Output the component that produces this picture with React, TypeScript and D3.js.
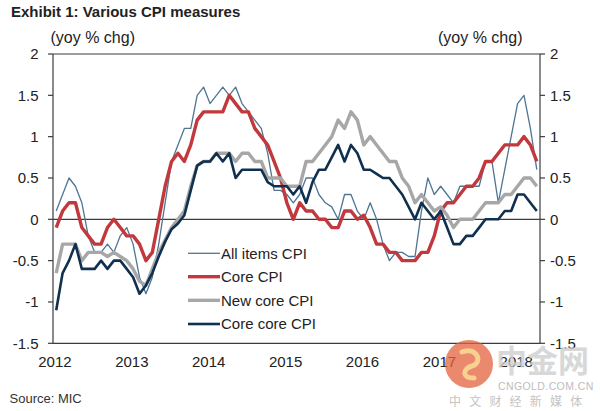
import React from "react";
import * as d3 from "d3";

// Monthly data Jan 2012 - Apr 2018 (yoy % chg)
const months: string[] = d3.range(76).map((i) => {
  const y = 2012 + Math.floor(i / 12);
  const m = (i % 12) + 1;
  return `${y}-${String(m).padStart(2, "0")}`;
});

const allItemsCPI: number[] = [
  0.1, 0.3, 0.5, 0.4, 0.2, -0.2, -0.4, -0.4, -0.3, -0.4, -0.2, -0.1,
  -0.3, -0.7, -0.9, -0.7, -0.3, 0.2, 0.7, 0.9, 1.1, 1.1, 1.5, 1.6,
  1.4, 1.5, 1.6, 1.5, 1.6, 1.4, 1.3, 1.2, 1.1, 0.8, 0.35, 0.35,
  0.3, 0.2, 0.3, 0.5, 0.5, 0.3, 0.2, 0.15, 0.0, 0.3, 0.3, 0.1,
  0.0, 0.2, 0.0, -0.3, -0.5, -0.4, -0.4, -0.45, -0.45, 0.1, 0.5, 0.3,
  0.4, 0.3, 0.2, 0.4, 0.4, 0.4, 0.4, 0.7, 0.7, 0.2, 0.6, 1.0,
  1.4, 1.5, 1.1, 0.6,
];

const coreCPI: number[] = [
  -0.1, 0.1, 0.2, 0.2, -0.1, -0.2, -0.3, -0.3, -0.1, 0.0, -0.1, -0.2,
  -0.2, -0.3, -0.5, -0.4, 0.0, 0.4, 0.7, 0.8, 0.7, 0.9, 1.2, 1.3,
  1.3, 1.3, 1.3, 1.5, 1.4, 1.3, 1.3, 1.1, 1.0, 0.9, 0.7, 0.5,
  0.2, 0.0, 0.2, 0.1, 0.1, 0.0, 0.0, -0.1, -0.1, 0.1, 0.1, 0.0,
  0.05, -0.1, -0.3, -0.3, -0.4, -0.4, -0.5, -0.5, -0.5, -0.4, -0.4, -0.2,
  0.1, 0.2, 0.2, 0.3, 0.4, 0.4, 0.5, 0.7, 0.7, 0.8, 0.9, 0.9,
  0.9, 1.0, 0.9, 0.7,
];

const newCoreCPI: number[] = [
  -0.65, -0.3, -0.3, -0.3, -0.5, -0.4, -0.4, -0.4, -0.45, -0.4, -0.45, -0.5,
  -0.6, -0.75, -0.8, -0.6, -0.4, -0.25, -0.1, 0.0, 0.1, 0.4, 0.65, 0.7,
  0.7, 0.8, 0.8, 0.8, 0.7, 0.8, 0.8, 0.7, 0.7, 0.5, 0.5, 0.5,
  0.4, 0.4, 0.4, 0.7, 0.7, 0.8, 0.9, 1.0, 1.2, 1.1, 1.3, 1.2,
  0.9, 1.0, 0.9, 0.8, 0.7, 0.7, 0.5, 0.4, 0.2, 0.3, 0.2, 0.1,
  0.15, 0.05, -0.1, 0.0, 0.0, 0.0, 0.1, 0.2, 0.2, 0.2, 0.3, 0.3,
  0.4, 0.5, 0.5, 0.4,
];

const coreCoreCPI: number[] = [
  -1.1, -0.65, -0.5, -0.3, -0.6, -0.6, -0.6, -0.5, -0.6, -0.5, -0.5, -0.6,
  -0.7, -0.9, -0.8, -0.65, -0.45, -0.27, -0.12, -0.05, 0.05, 0.35, 0.65, 0.7,
  0.7, 0.8, 0.7, 0.8, 0.5, 0.6, 0.6, 0.6, 0.6, 0.45, 0.4, 0.4,
  0.4, 0.3, 0.4, 0.2, 0.45, 0.6, 0.6, 0.75, 0.9, 0.7, 0.9, 0.8,
  0.6, 0.6, 0.55, 0.5, 0.5, 0.4, 0.3, 0.15, 0.0, 0.2, 0.1, 0.0,
  0.1, -0.1, -0.3, -0.3, -0.2, -0.2, -0.1, 0.0, 0.0, 0.0, 0.1, 0.1,
  0.3, 0.3, 0.2, 0.1,
];

const yearLabels: string[] = ["2012", "2013", "2014", "2015", "2016", "2017", "2018"];
const yTicks: number[] = [2, 1.5, 1, 0.5, 0, -0.5, -1, -1.5];

const seriesNames: string[] = ["All items CPI", "Core CPI", "New core CPI", "Core core CPI"];
const seriesColors: string[] = ["#4f7593", "#c1393d", "#a7a7a7", "#10304f"];
const seriesWidths: number[] = [1.3, 3.4, 3.4, 2.6];

const FONT = "'Liberation Sans', Arial, Helvetica, sans-serif";

export default function App() {
  const W = 600;
  const H = 411;
  const x0 = 53;
  const x1 = 540;
  const yTop = 54;
  const yBot = 343.3;

  const xBand = d3.scaleBand<number>().domain(d3.range(months.length)).range([x0, x1]).padding(0);
  const bw = xBand.bandwidth();
  const xc = (i: number) => (xBand(i) as number) + bw / 2;
  const y = d3.scaleLinear().domain([-1.5, 2]).range([yBot, yTop]);

  const seriesData = [allItemsCPI, coreCPI, newCoreCPI, coreCoreCPI];
  const line = d3
    .line<number>()
    .x((_, i) => xc(i))
    .y((d) => y(d));

  const axisColor = "#3c3c3c";
  const legendY = [253.3, 276.7, 300.3, 324];

  return (
    <svg
      width={W}
      height={H}
      style={{ position: "absolute", left: 0, top: 0, background: "#fff" }}
      fontFamily={FONT}
    >
      <rect x={0} y={0} width={W} height={H} fill="#fff" />
      {/* Title */}
      <text x={11} y={16.5} fontSize={15} fontWeight="bold" fill="#222">
        Exhibit 1: Various CPI measures
      </text>
      <text x={50.5} y={42.5} fontSize={16} fill="#222">
        (yoy % chg)
      </text>
      <text x={438} y={42.5} fontSize={16} fill="#222">
        (yoy % chg)
      </text>

      {/* Zero line */}
      <line x1={x0} x2={x1} y1={y(0)} y2={y(0)} stroke={axisColor} strokeWidth={1.2} />

      {/* Series */}
      {seriesData.map((d, k) => (
        <path
          key={seriesNames[k]}
          d={line(d) as string}
          fill="none"
          stroke={seriesColors[k]}
          strokeWidth={seriesWidths[k]}
          strokeLinejoin="round"
          strokeLinecap="butt"
        />
      ))}

      {/* Frame */}
      <line x1={x0} x2={x1} y1={yTop} y2={yTop} stroke={axisColor} strokeWidth={1.2} />
      <line x1={x0} x2={x1} y1={yBot} y2={yBot} stroke={axisColor} strokeWidth={1.2} />
      <line x1={x0} x2={x0} y1={yTop} y2={yBot} stroke={axisColor} strokeWidth={1.2} />
      <line x1={x1} x2={x1} y1={yTop} y2={yBot} stroke={axisColor} strokeWidth={1.2} />

      {/* Y ticks and labels */}
      {yTicks.map((t) => (
        <g key={"t" + t}>
          <line x1={x0 - 5} x2={x0} y1={y(t)} y2={y(t)} stroke={axisColor} strokeWidth={1.2} />
          <line x1={x1} x2={x1 + 5} y1={y(t)} y2={y(t)} stroke={axisColor} strokeWidth={1.2} />
          <text x={38.5} y={y(t) + 5.3} fontSize={15} textAnchor="end" fill="#222">
            {String(t)}
          </text>
          <text x={550} y={y(t) + 5.3} fontSize={15} textAnchor="start" fill="#222">
            {String(t)}
          </text>
        </g>
      ))}

      {/* X labels */}
      {yearLabels.map((lab, k) => (
        <text
          key={lab}
          x={(xBand(k * 12) as number) + bw * 0.3}
          y={367}
          fontSize={15}
          textAnchor="middle"
          fill="#222"
        >
          {lab}
        </text>
      ))}

      {/* Legend */}
      {seriesNames.map((name, k) => (
        <g key={"lg" + name}>
          <line
            x1={188}
            x2={220}
            y1={legendY[k]}
            y2={legendY[k]}
            stroke={seriesColors[k]}
            strokeWidth={seriesWidths[k]}
          />
          <text x={221} y={legendY[k] + 5.3} fontSize={15} fill="#222">
            {name}
          </text>
        </g>
      ))}

      {/* Source */}
      <text x={9.5} y={402.5} fontSize={13} fill="#333">
        Source: MIC
      </text>

      {/* Watermark */}
      <g opacity={0.75}>
        <circle cx={469} cy={364} r={24} fill="#e4623d" />
        <path
          d="M 462 352 C 476 346, 484 362, 472 366 C 462 369, 462 378, 474 378"
          fill="none"
          stroke="#f6c26b"
          strokeWidth={5}
          strokeLinecap="round"
        />
      </g>
      <text x={496} y={372} fontSize={31} fontWeight="bold" fill="#cfcfcf" opacity={0.8}
        fontFamily="'Noto Sans CJK SC', sans-serif">
        中金网
      </text>
      <text x={498} y={389.5} fontSize={10.5} fill="#bdbdbd" letterSpacing={0.4}>
        CNGOLD.COM.CN
      </text>
      <text x={449} y={406} fontSize={12} fill="#c4c4c4" letterSpacing={8.2}
        fontFamily="'Noto Sans CJK SC', sans-serif">
        中文财经新媒体
      </text>
    </svg>
  );
}
